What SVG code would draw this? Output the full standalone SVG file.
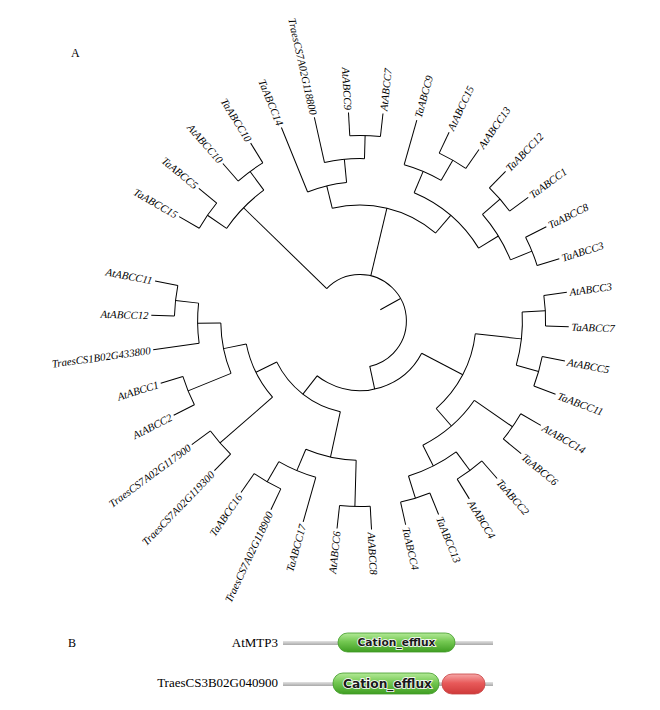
<svg xmlns="http://www.w3.org/2000/svg" width="660" height="710" viewBox="0 0 660 710">
<style>
.br line,.br circle{stroke:#000;stroke-width:1;fill:none}
.lf{font-family:"Liberation Serif","Times New Roman",serif;font-style:italic;font-size:10.8px;fill:#000;dominant-baseline:central}
.ll{text-anchor:end}
.cap{font-family:"Liberation Serif","Times New Roman",serif;font-size:12px;fill:#000}
.nm{font-family:"Liberation Serif","Times New Roman",serif;font-size:13px;fill:#000;text-anchor:end}
.dom{font-family:"DejaVu Sans","Liberation Sans",sans-serif;font-weight:bold;fill:#1a1a1a;stroke:#fff;stroke-width:1.6;paint-order:stroke;text-anchor:middle}
</style>
<defs>
<linearGradient id="gray" x1="0" y1="0" x2="0" y2="1"><stop offset="0" stop-color="#e2e2e2"/><stop offset="0.5" stop-color="#c6c6c6"/><stop offset="1" stop-color="#a9a9a9"/></linearGradient>
<linearGradient id="green" x1="0" y1="0" x2="0" y2="1"><stop offset="0" stop-color="#b4ea98"/><stop offset="0.45" stop-color="#74c852"/><stop offset="1" stop-color="#3f9e22"/></linearGradient>
<linearGradient id="red" x1="0" y1="0" x2="0" y2="1"><stop offset="0" stop-color="#f6a8a8"/><stop offset="0.45" stop-color="#e85a5a"/><stop offset="1" stop-color="#cf3a3a"/></linearGradient>
</defs>
<rect width="660" height="710" fill="#fff"/>
<text class="cap" x="71" y="57">A</text>
<g transform="translate(360 321)">
<g id="branches" class="br">
<line x1="23.2" x2="46.4" transform="rotate(331.01)"/>
<circle r="46.4" stroke-dasharray="172.98 2000" transform="rotate(224.21)"/>
<line x1="46.4" x2="162.4" transform="rotate(224.21)"/>
<line x1="46.4" x2="116" transform="rotate(283.42)"/>
<line x1="46.4" x2="69.6" transform="rotate(437.81)"/>
<circle r="162.4" stroke-dasharray="53.68 2000" transform="rotate(214.74)"/>
<line x1="162.4" x2="185.6" transform="rotate(214.74)"/>
<line x1="162.4" x2="185.6" transform="rotate(233.68)"/>
<circle r="116" stroke-dasharray="110.30 2000" transform="rotate(256.18)"/>
<line x1="116" x2="139.2" transform="rotate(256.18)"/>
<circle r="139.2" stroke-dasharray="40.28 2000" transform="rotate(247.89)"/>
<line x1="139.2" x2="208.8" transform="rotate(247.89)"/>
<line x1="139.2" x2="162.4" transform="rotate(264.47)"/>
<circle r="162.4" stroke-dasharray="40.28 2000" transform="rotate(257.37)"/>
<line x1="162.4" x2="208.8" transform="rotate(257.37)"/>
<line x1="162.4" x2="185.6" transform="rotate(271.58)"/>
<line x1="116" x2="139.2" transform="rotate(310.66)"/>
<circle r="139.2" stroke-dasharray="86.32 2000" transform="rotate(292.89)"/>
<line x1="139.2" x2="162.4" transform="rotate(292.89)"/>
<circle r="162.4" stroke-dasharray="40.28 2000" transform="rotate(285.79)"/>
<line x1="162.4" x2="208.8" transform="rotate(285.79)"/>
<line x1="162.4" x2="185.6" transform="rotate(300)"/>
<line x1="139.2" x2="162.4" transform="rotate(328.42)"/>
<circle r="162.4" stroke-dasharray="53.68 2000" transform="rotate(318.95)"/>
<line x1="162.4" x2="185.6" transform="rotate(318.95)"/>
<line x1="162.4" x2="185.6" transform="rotate(337.89)"/>
<circle r="69.6" stroke-dasharray="121.91 2000" transform="rotate(387.63)"/>
<line x1="69.6" x2="116" transform="rotate(387.63)"/>
<circle r="116" stroke-dasharray="86.31 2000" transform="rotate(366.32)"/>
<line x1="116" x2="162.4" transform="rotate(366.32)"/>
<circle r="162.4" stroke-dasharray="53.71 2000" transform="rotate(356.84)"/>
<line x1="162.4" x2="185.6" transform="rotate(356.84)"/>
<line x1="162.4" x2="185.6" transform="rotate(375.79)"/>
<line x1="116" x2="139.2" transform="rotate(408.95)"/>
<circle r="139.2" stroke-dasharray="69.05 2000" transform="rotate(394.74)"/>
<line x1="139.2" x2="185.6" transform="rotate(394.74)"/>
<line x1="139.2" x2="162.4" transform="rotate(423.16)"/>
<circle r="162.4" stroke-dasharray="53.71 2000" transform="rotate(413.68)"/>
<line x1="162.4" x2="185.6" transform="rotate(413.68)"/>
<line x1="162.4" x2="185.6" transform="rotate(432.63)"/>
<line x1="69.6" x2="92.8" transform="rotate(487.99)"/>
<circle r="92.8" stroke-dasharray="83.43 2000" transform="rotate(462.24)"/>
<line x1="92.8" x2="139.2" transform="rotate(462.24)"/>
<circle r="139.2" stroke-dasharray="51.77 2000" transform="rotate(451.58)"/>
<line x1="139.2" x2="185.6" transform="rotate(451.58)"/>
<line x1="139.2" x2="162.4" transform="rotate(472.89)"/>
<circle r="162.4" stroke-dasharray="40.28 2000" transform="rotate(465.79)"/>
<line x1="162.4" x2="208.8" transform="rotate(465.79)"/>
<line x1="162.4" x2="185.6" transform="rotate(480)"/>
<line x1="92.8" x2="116" transform="rotate(513.75)"/>
<circle r="116" stroke-dasharray="59.93 2000" transform="rotate(498.95)"/>
<line x1="116" x2="185.6" transform="rotate(498.95)"/>
<line x1="116" x2="139.2" transform="rotate(528.55)"/>
<circle r="139.2" stroke-dasharray="51.80 2000" transform="rotate(517.89)"/>
<line x1="139.2" x2="185.6" transform="rotate(517.89)"/>
<line x1="139.2" x2="162.4" transform="rotate(539.21)"/>
<circle r="162.4" stroke-dasharray="40.28 2000" transform="rotate(532.11)"/>
<line x1="162.4" x2="208.8" transform="rotate(532.11)"/>
<line x1="162.4" x2="185.6" transform="rotate(546.32)"/>
<circle r="185.6" stroke-dasharray="30.69 2000" transform="rotate(210)"/>
<circle r="185.6" stroke-dasharray="30.69 2000" transform="rotate(228.95)"/>
<circle r="185.6" stroke-dasharray="30.69 2000" transform="rotate(266.84)"/>
<circle r="185.6" stroke-dasharray="30.69 2000" transform="rotate(295.26)"/>
<circle r="185.6" stroke-dasharray="30.69 2000" transform="rotate(314.21)"/>
<circle r="185.6" stroke-dasharray="30.69 2000" transform="rotate(333.16)"/>
<circle r="185.6" stroke-dasharray="30.69 2000" transform="rotate(352.11)"/>
<circle r="185.6" stroke-dasharray="30.69 2000" transform="rotate(371.05)"/>
<circle r="185.6" stroke-dasharray="30.69 2000" transform="rotate(390)"/>
<circle r="185.6" stroke-dasharray="30.69 2000" transform="rotate(408.95)"/>
<circle r="185.6" stroke-dasharray="30.69 2000" transform="rotate(427.89)"/>
<circle r="185.6" stroke-dasharray="30.69 2000" transform="rotate(446.84)"/>
<circle r="185.6" stroke-dasharray="30.69 2000" transform="rotate(475.26)"/>
<circle r="185.6" stroke-dasharray="30.69 2000" transform="rotate(494.21)"/>
<circle r="185.6" stroke-dasharray="30.69 2000" transform="rotate(513.16)"/>
<circle r="185.6" stroke-dasharray="30.69 2000" transform="rotate(541.58)"/>
<line x1="185.6" x2="208.8" transform="rotate(210)"/>
<line x1="185.6" x2="208.8" transform="rotate(219.47)"/>
<line x1="185.6" x2="208.8" transform="rotate(228.95)"/>
<line x1="185.6" x2="208.8" transform="rotate(238.42)"/>
<line x1="185.6" x2="208.8" transform="rotate(266.84)"/>
<line x1="185.6" x2="208.8" transform="rotate(276.32)"/>
<line x1="185.6" x2="208.8" transform="rotate(295.26)"/>
<line x1="185.6" x2="208.8" transform="rotate(304.74)"/>
<line x1="185.6" x2="208.8" transform="rotate(314.21)"/>
<line x1="185.6" x2="208.8" transform="rotate(323.68)"/>
<line x1="185.6" x2="208.8" transform="rotate(333.16)"/>
<line x1="185.6" x2="208.8" transform="rotate(342.63)"/>
<line x1="185.6" x2="208.8" transform="rotate(352.11)"/>
<line x1="185.6" x2="208.8" transform="rotate(361.58)"/>
<line x1="185.6" x2="208.8" transform="rotate(371.05)"/>
<line x1="185.6" x2="208.8" transform="rotate(380.53)"/>
<line x1="185.6" x2="208.8" transform="rotate(390)"/>
<line x1="185.6" x2="208.8" transform="rotate(399.47)"/>
<line x1="185.6" x2="208.8" transform="rotate(408.95)"/>
<line x1="185.6" x2="208.8" transform="rotate(418.42)"/>
<line x1="185.6" x2="208.8" transform="rotate(427.89)"/>
<line x1="185.6" x2="208.8" transform="rotate(437.37)"/>
<line x1="185.6" x2="208.8" transform="rotate(446.84)"/>
<line x1="185.6" x2="208.8" transform="rotate(456.32)"/>
<line x1="185.6" x2="208.8" transform="rotate(475.26)"/>
<line x1="185.6" x2="208.8" transform="rotate(484.74)"/>
<line x1="185.6" x2="208.8" transform="rotate(494.21)"/>
<line x1="185.6" x2="208.8" transform="rotate(503.68)"/>
<line x1="185.6" x2="208.8" transform="rotate(513.16)"/>
<line x1="185.6" x2="208.8" transform="rotate(522.63)"/>
<line x1="185.6" x2="208.8" transform="rotate(541.58)"/>
<line x1="185.6" x2="208.8" transform="rotate(551.05)"/>
</g>
<g id="TaABCC15"><text class="lf ll" x="-211.5" transform="rotate(30)">TaABCC15</text></g>
<g id="TaABCC5"><text class="lf ll" x="-211.5" transform="rotate(39.47)">TaABCC5</text></g>
<g id="AtABCC10"><text class="lf ll" x="-211.5" transform="rotate(48.95)">AtABCC10</text></g>
<g id="TaABCC10"><text class="lf ll" x="-211.5" transform="rotate(58.42)">TaABCC10</text></g>
<g id="TaABCC14"><text class="lf ll" x="-211.5" transform="rotate(67.89)">TaABCC14</text></g>
<g id="TraesCS7A02G118800"><text class="lf ll" x="-211.5" transform="rotate(77.37)">TraesCS7A02G118800</text></g>
<g id="AtABCC9"><text class="lf ll" x="-211.5" transform="rotate(86.84)">AtABCC9</text></g>
<g id="AtABCC7"><text class="lf" x="211.5" transform="rotate(276.32)">AtABCC7</text></g>
<g id="TaABCC9"><text class="lf" x="211.5" transform="rotate(285.79)">TaABCC9</text></g>
<g id="AtABCC15"><text class="lf" x="211.5" transform="rotate(295.26)">AtABCC15</text></g>
<g id="AtABCC13"><text class="lf" x="211.5" transform="rotate(304.74)">AtABCC13</text></g>
<g id="TaABCC12"><text class="lf" x="211.5" transform="rotate(314.21)">TaABCC12</text></g>
<g id="TaABCC1"><text class="lf" x="211.5" transform="rotate(323.68)">TaABCC1</text></g>
<g id="TaABCC8"><text class="lf" x="211.5" transform="rotate(333.16)">TaABCC8</text></g>
<g id="TaABCC3"><text class="lf" x="211.5" transform="rotate(342.63)">TaABCC3</text></g>
<g id="AtABCC3"><text class="lf" x="211.5" transform="rotate(352.11)">AtABCC3</text></g>
<g id="TaABCC7"><text class="lf" x="211.5" transform="rotate(1.58)">TaABCC7</text></g>
<g id="AtABCC5"><text class="lf" x="211.5" transform="rotate(11.05)">AtABCC5</text></g>
<g id="TaABCC11"><text class="lf" x="211.5" transform="rotate(20.53)">TaABCC11</text></g>
<g id="AtABCC14"><text class="lf" x="211.5" transform="rotate(30)">AtABCC14</text></g>
<g id="TaABCC6"><text class="lf" x="211.5" transform="rotate(39.47)">TaABCC6</text></g>
<g id="TaABCC2"><text class="lf" x="211.5" transform="rotate(48.95)">TaABCC2</text></g>
<g id="AtABCC4"><text class="lf" x="211.5" transform="rotate(58.42)">AtABCC4</text></g>
<g id="TaABCC13"><text class="lf" x="211.5" transform="rotate(67.89)">TaABCC13</text></g>
<g id="TaABCC4"><text class="lf" x="211.5" transform="rotate(77.37)">TaABCC4</text></g>
<g id="AtABCC8"><text class="lf" x="211.5" transform="rotate(86.84)">AtABCC8</text></g>
<g id="AtABCC6"><text class="lf ll" x="-211.5" transform="rotate(276.32)">AtABCC6</text></g>
<g id="TaABCC17"><text class="lf ll" x="-211.5" transform="rotate(285.79)">TaABCC17</text></g>
<g id="TraesCS7A02G118900"><text class="lf ll" x="-211.5" transform="rotate(295.26)">TraesCS7A02G118900</text></g>
<g id="TaABCC16"><text class="lf ll" x="-211.5" transform="rotate(304.74)">TaABCC16</text></g>
<g id="TraesCS7A02G119300"><text class="lf ll" x="-211.5" transform="rotate(314.21)">TraesCS7A02G119300</text></g>
<g id="TraesCS7A02G117900"><text class="lf ll" x="-211.5" transform="rotate(323.68)">TraesCS7A02G117900</text></g>
<g id="AtABCC2"><text class="lf ll" x="-211.5" transform="rotate(333.16)">AtABCC2</text></g>
<g id="AtABCC1"><text class="lf ll" x="-211.5" transform="rotate(342.63)">AtABCC1</text></g>
<g id="TraesCS1B02G433800"><text class="lf ll" x="-211.5" transform="rotate(352.11)">TraesCS1B02G433800</text></g>
<g id="AtABCC12"><text class="lf ll" x="-211.5" transform="rotate(1.58)">AtABCC12</text></g>
<g id="AtABCC11"><text class="lf ll" x="-211.5" transform="rotate(11.05)">AtABCC11</text></g>
</g>
<text class="cap" x="68" y="647">B</text>
<g id="AtMTP3">
<text class="nm" x="278" y="647">AtMTP3</text>
<rect x="283" y="641" width="210" height="4" fill="url(#gray)"/>
<rect x="338" y="633" width="117" height="19" rx="9.5" fill="url(#green)" stroke="#3f9a26" stroke-width="0.8"/>
<text class="dom" x="396.5" y="646" font-size="11" textLength="78" lengthAdjust="spacingAndGlyphs">Cation_efflux</text>
</g>
<g id="TraesCS3B02G040900">
<text class="nm" x="278" y="687">TraesCS3B02G040900</text>
<rect x="283" y="682" width="210" height="4" fill="url(#gray)"/>
<rect x="333" y="673" width="106" height="21" rx="10" fill="url(#green)" stroke="#3f9a26" stroke-width="0.8"/>
<text class="dom" x="387.5" y="688" font-size="12.5" textLength="89" lengthAdjust="spacingAndGlyphs">Cation_efflux</text>
<rect x="442" y="674" width="43" height="20" rx="10" fill="url(#red)" stroke="#c64242" stroke-width="0.8"/>
</g>
</svg>
